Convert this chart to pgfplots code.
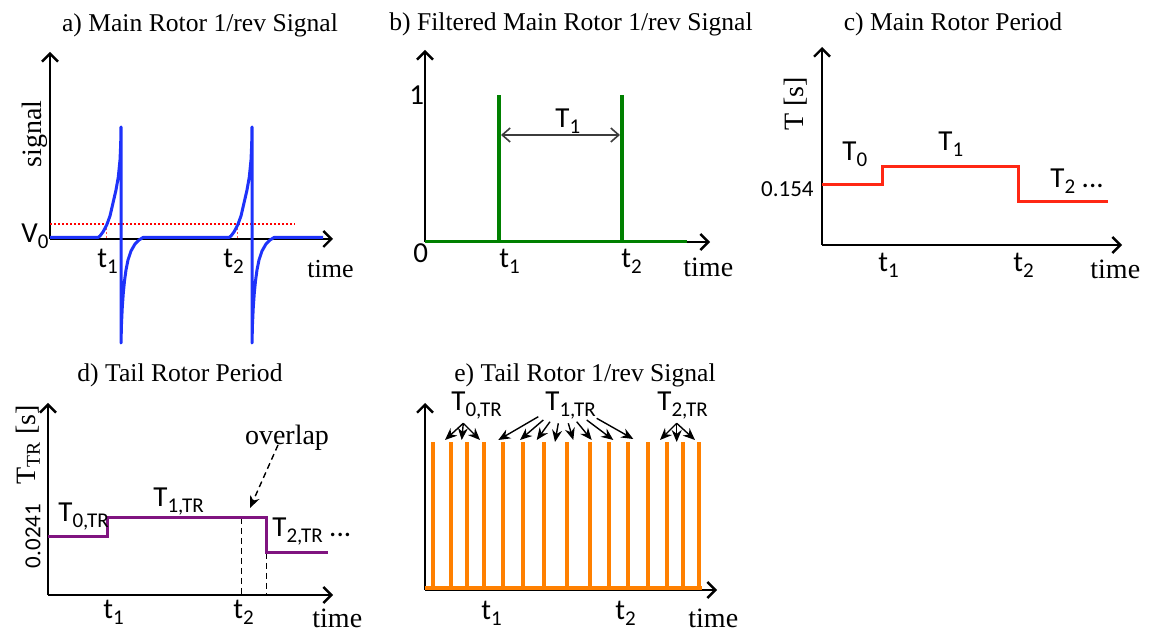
\documentclass[border=0pt]{standalone}
\usepackage{fontspec}
\setmainfont{Liberation Serif}
\newfontfamily\calib{Carlito}
\usepackage{pgfplots}
\pgfplotsset{compat=1.18}
\usetikzlibrary{arrows.meta}
\definecolor{sigblue}{RGB}{30,50,250}
\definecolor{siggreen}{RGB}{0,128,0}
\definecolor{sigred}{RGB}{255,40,20}
\definecolor{sigpurple}{RGB}{128,20,128}
\definecolor{sigorange}{RGB}{255,128,0}
\definecolor{arrgray}{RGB}{60,60,60}
\newcommand{\ct}[1]{{\fontsize{14.5}{15}\calib #1}}
\newcommand{\sub}[1]{\raisebox{-0.42ex}{\fontsize{10.5}{11}\calib #1}}
\newcommand{\ttl}[1]{{\fontsize{12.8}{14}\selectfont #1}}
\newcommand{\lbl}[1]{{\fontsize{14}{16}\selectfont #1}}
\newcommand{\nm}[1]{{\fontsize{11.5}{12}\calib #1}}
\pgfplotsset{
  panel/.style={
    x=0.5pt, y=0.5pt,
    xmin=0, ymin=0, enlargelimits=false,
    axis lines=left,
    axis line style={line width=1.2pt},
    every outer x axis line/.append style={line width=1.2pt, -{Straight Barb[length=4pt,width=8pt]}},
    every outer y axis line/.append style={line width=1.2pt, -{Straight Barb[length=4pt,width=8pt]}},
    xtick=\empty, ytick=\empty,
    clip=false,
    anchor=south west,
  },
}
\tikzset{ann/.style={line width=0.7pt, -{Stealth[length=6pt,width=5pt]}}}
\begin{document}
\begin{tikzpicture}[x=0.5pt,y=-0.5pt]
\path (0,0) rectangle (1152,635);

% ---------- a) ----------
\begin{axis}[panel, at={(25pt,-119.5pt)}, xmax=283, ymax=187]
\addplot[red, dash pattern=on 1pt off 1pt, line width=0.6pt] coordinates {(0,15)(245,15)};
\addplot[red!70, dash pattern=on 1pt off 1pt, line width=0.5pt] coordinates {(56.7,15)(56.7,0)};
\addplot[red!70, dash pattern=on 1pt off 1pt, line width=0.5pt] coordinates {(187.7,15)(187.7,0)};
\addplot[sigblue, line width=1.5pt, line join=round] coordinates {
(0,1.5)(48,1.5)(50,3)(53,7)(56.7,14)(60,23)(63,36)(66,49)(68.3,62)(70,79)(70.7,95)(71,112)
(71,-104)(71.5,-85)(72.3,-68)(73.3,-54)(74.5,-42)(76,-31)(78,-21)(81,-12)(85,-5)(89,-1)(93,1.5)
(179,1.5)(181,3)(184,7)(187.7,14)(191,23)(194,36)(197,49)(199.3,62)(201,79)(201.7,95)(202,112)
(202,-104)(202.5,-85)(203.3,-68)(204.3,-54)(205.5,-42)(207,-31)(209,-21)(212,-12)(216,-5)(220,-1)(224,1.5)(273,1.5)};
\end{axis}
\node[anchor=base] at (200,32) {\ttl{a) Main Rotor 1/rev Signal}};
\node[rotate=90] at (35,134) {\lbl{signal}};
\node[anchor=base west, inner sep=0pt] at (21,243) {\ct{V\sub{0}}};
\node[anchor=base west, inner sep=0pt] at (97,268) {\ct{t\sub{1}}};
\node[anchor=base west, inner sep=0pt] at (223,268) {\ct{t\sub{2}}};
\node[anchor=base west, inner sep=0pt] at (307,278) {{\fontsize{13}{14}\selectfont time}};

% ---------- b) ----------
\begin{axis}[panel, at={(212.5pt,-121pt)}, xmax=285, ymax=192]
\addplot[siggreen, line width=1.75pt] coordinates {(0,0.5)(262,0.5)};
\addplot[siggreen, line width=1.75pt, ycomb] coordinates {(74,147)(197,147)};
\draw[arrgray, line width=0.8pt, {Straight Barb[length=4pt,width=7pt]}-{Straight Barb[length=4pt,width=7pt]}] (axis cs:76,107) -- (axis cs:195,107);
\end{axis}
\node[anchor=base] at (571,31) {\ttl{b) Filtered Main Rotor 1/rev Signal}};
\node[anchor=base west, inner sep=0pt] at (409,105) {\ct{1}};
\node[anchor=base west, inner sep=0pt] at (413,263) {\ct{0}};
\node[anchor=base west, inner sep=0pt] at (555,128) {\ct{T\sub{1}}};
\node[anchor=base west, inner sep=0pt] at (499,268) {\ct{t\sub{1}}};
\node[anchor=base west, inner sep=0pt] at (621,268) {\ct{t\sub{2}}};
\node[anchor=base west, inner sep=0pt] at (683,277) {\lbl{time}};

% ---------- c) ----------
\begin{axis}[panel, at={(411pt,-122.5pt)}, xmax=300, ymax=198]
\addplot[sigred, line width=1.5pt] coordinates {(0,60)(60,60)(60,78)(196,78)(196,43)(286,43)};
\end{axis}
\node[anchor=base] at (953,31) {\ttl{c) Main Rotor Period}};
\node[rotate=90] at (796,104) {\lbl{T [s]}};
\node[anchor=base east, inner sep=0pt] at (814,197) {\nm{0.154}};
\node[anchor=base west, inner sep=0pt] at (842,161) {\ct{T\sub{0}}};
\node[anchor=base west, inner sep=0pt] at (938,151) {\ct{T\sub{1}}};
\node[anchor=base west, inner sep=0pt] at (1050,188) {\ct{T\sub{2} ...}};
\node[anchor=base west, inner sep=0pt] at (878,272) {\ct{t\sub{1}}};
\node[anchor=base west, inner sep=0pt] at (1013,272) {\ct{t\sub{2}}};
\node[anchor=base west, inner sep=0pt] at (1090,279) {\lbl{time}};

% ---------- d) ----------
\begin{axis}[panel, at={(24pt,-297.5pt)}, xmax=285, ymax=192]
\addplot[black, densely dashed, line width=0.5pt] coordinates {(193,77)(193,0)};
\addplot[black, densely dashed, line width=0.5pt] coordinates {(218,42)(218,0)};
\addplot[sigpurple, line width=1.5pt] coordinates {(0,58)(59,58)(59,77)(218,77)(218,42)(280,42)};
\draw[densely dashed, ann] (axis cs:230,150) -- (axis cs:202,87);
\end{axis}
\node[anchor=base] at (180,382) {\ttl{d) Tail Rotor Period}};
\node[rotate=90] at (28,445) {\lbl{T\textsubscript{TR} [s]}};
\node[rotate=90] at (33,536) {\nm{0.0241}};
\node[anchor=base west, inner sep=0pt] at (58,522) {\ct{T\sub{0,TR}}};
\node[anchor=base west, inner sep=0pt] at (153,507) {\ct{T\sub{1,TR}}};
\node[anchor=base west, inner sep=0pt] at (272,537) {\ct{T\sub{2,TR} ...}};
\node[anchor=base] at (287,445) {\lbl{overlap}};
\node[anchor=base west, inner sep=0pt] at (103,619) {\ct{t\sub{1}}};
\node[anchor=base west, inner sep=0pt] at (233,619) {\ct{t\sub{2}}};
\node[anchor=base west, inner sep=0pt] at (312,628) {\lbl{time}};

% ---------- e) ----------
\begin{axis}[panel, at={(212.5pt,-295pt)}, xmax=292, ymax=187]
\addplot[sigorange, line width=2pt, ycomb] coordinates {
(8.3,148)(26,148)(41.7,148)(59,148)(77.7,148)(97.7,148)(119,148)(141.7,148)
(165,148)(184.3,148)(203.3,148)(223.3,148)(241.7,148)(258.3,148)(274.3,148)};
\addplot[sigorange, line width=2pt] coordinates {(0,1.5)(277,1.5)};
\draw[ann] (axis cs:38.3,166.7) -- (axis cs:20,150);
\draw[ann] (axis cs:38.3,166.7) -- (axis cs:36.7,150);
\draw[ann] (axis cs:38.3,166.7) -- (axis cs:55,150);
\draw[ann] (axis cs:113.3,173.3) -- (axis cs:73.3,150);
\draw[ann] (axis cs:118.3,170) -- (axis cs:95,150);
\draw[ann] (axis cs:125,168.3) -- (axis cs:111.7,150);
\draw[ann] (axis cs:133.3,166.7) -- (axis cs:130,148);
\draw[ann] (axis cs:143.3,166.7) -- (axis cs:148.3,150);
\draw[ann] (axis cs:151.7,168.3) -- (axis cs:166.7,150);
\draw[ann] (axis cs:161.7,170) -- (axis cs:188.3,150);
\draw[ann] (axis cs:171.7,171.7) -- (axis cs:208.3,151);
\draw[ann] (axis cs:251.7,166.7) -- (axis cs:235,150);
\draw[ann] (axis cs:251.7,166.7) -- (axis cs:251.7,148);
\draw[ann] (axis cs:251.7,166.7) -- (axis cs:270,150);
\end{axis}
\node[anchor=base] at (585,382) {\ttl{e) Tail Rotor 1/rev Signal}};
\node[anchor=base west, inner sep=0pt] at (451,411) {\ct{T\sub{0,TR}}};
\node[anchor=base west, inner sep=0pt] at (545,411) {\ct{T\sub{1,TR}}};
\node[anchor=base west, inner sep=0pt] at (657,411) {\ct{T\sub{2,TR}}};
\node[anchor=base west, inner sep=0pt] at (481,620) {\ct{t\sub{1}}};
\node[anchor=base west, inner sep=0pt] at (615,620) {\ct{t\sub{2}}};
\node[anchor=base west, inner sep=0pt] at (688,628) {\lbl{time}};
\end{tikzpicture}
\end{document}
